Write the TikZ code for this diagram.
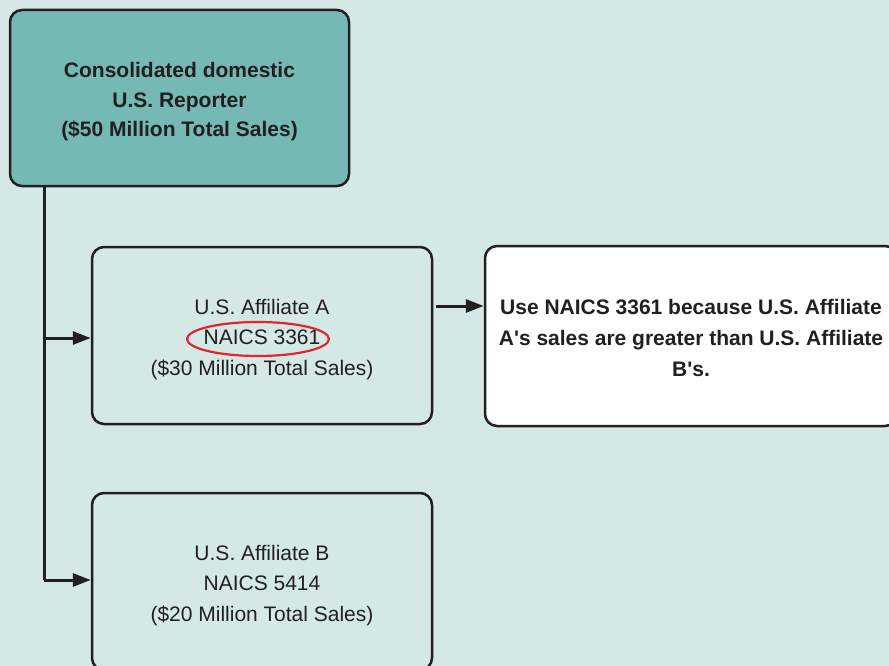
\documentclass[tikz,border=0pt]{standalone}
\usepackage{fontspec}
\setmainfont{Liberation Sans}
\usetikzlibrary{arrows.meta}
\definecolor{bg}{HTML}{D4E9E6}
\definecolor{teal}{HTML}{74B9B4}
\definecolor{ink}{HTML}{231F20}
\definecolor{ring}{HTML}{E3262C}
\tikzset{
  box/.style={draw=ink, line width=2.5pt, rounded corners=12pt, inner sep=0pt},
  txt/.style={align=center, text=ink, inner sep=0pt, font=\fontsize{21}{30.5}\selectfont},
  conn/.style={draw=ink, line width=3pt},
  arr/.style={conn, -{Triangle[length=18pt,width=13pt]}}
}
\begin{document}
\begin{tikzpicture}[x=1pt,y=-1pt]
\useasboundingbox (0,0) rectangle (889,666);
\fill[bg] (0,0) rectangle (889,666);
\begin{scope}
\clip (0,0) rectangle (889,666);
\node[box, fill=teal, minimum width=339pt, minimum height=176pt] (top) at (179.5,98) {};
\node[txt, font=\bfseries\fontsize{21}{29.5}\selectfont] (topt) at ([yshift=-4pt]top.center)
  {Consolidated domestic\\U.S. Reporter\\(\$50 Million Total Sales)};
\node[box, minimum width=340pt, minimum height=177pt] (A) at (262,335.5) {};
\node[txt] (At) at ([yshift=-4pt]A.center)
  {U.S. Affiliate A\\NAICS 3361\\(\$30 Million Total Sales)};
\node[box, minimum width=340pt, minimum height=177pt] (B) at (262,581.5) {};
\node[txt] (Bt) at ([yshift=-4pt]B.center)
  {U.S. Affiliate B\\NAICS 5414\\(\$20 Million Total Sales)};
\node[box, fill=white, minimum width=412pt, minimum height=180pt] (R) at (691,336) {};
\node[txt, font=\bfseries\fontsize{21}{31}\selectfont] (Rt) at ([yshift=-1.5pt]R.center)
  {Use NAICS 3361 because U.S. Affiliate\\A\textquotesingle s sales are greater than U.S. Affiliate\\B\textquotesingle s.};
\coordinate (spine) at (44,0);
\coordinate (ay) at (0,306);
\coordinate (ya) at (0,338);
\coordinate (yb) at (0,580);
\draw[conn] (top.south -| spine) -- (spine |- yb);
\draw[arr] (spine |- ya) -- (A.west |- ya);
\draw[arr] (spine |- yb) -- (B.west |- yb);
\draw[arr] ([xshift=3pt]A.east |- ay) -- (R.west |- ay);
\draw[ring, line width=2.2pt] (258,339) ellipse [x radius=71, y radius=17];
\end{scope}
\end{tikzpicture}
\end{document}
